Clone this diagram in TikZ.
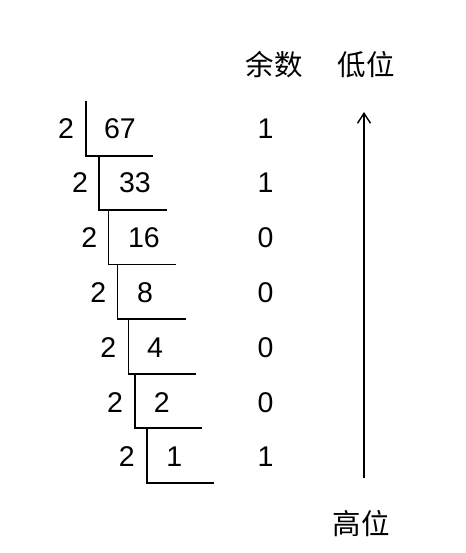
\documentclass[tikz,border=0pt]{standalone}
\usepackage{fontspec}
\setmainfont{Liberation Sans}
\newfontfamily\cjk{Noto Sans CJK SC}
\usetikzlibrary{arrows.meta}
\begin{document}
\begin{tikzpicture}[x=1pt,y=-1pt,
  txt/.style={inner sep=0pt,anchor=center,font=\fontsize{28.5}{34}\selectfont},
  cjktxt/.style={inner sep=0pt,anchor=center,font=\fontsize{28.5}{34}\selectfont\cjk},
  bracket/.style={line width=1.6pt,black},
  arrowline/.style={line width=1.4pt,black,-{Straight Barb[length=10pt,width=13pt,line width=1.4pt]}}]
\useasboundingbox (0,0) rectangle (465,553);
% division brackets
\draw[bracket] (85.7,101) -- (85.7,156) -- (153.3,156);
\draw[bracket] (99,156) -- (99,210) -- (166.7,210);
\draw[bracket] (108.3,210) -- (108.3,264.5) -- (176,264.5);
\draw[bracket] (117.3,264.5) -- (117.3,319) -- (185.7,319);
\draw[bracket] (128.3,319) -- (128.3,374) -- (195.7,374);
\draw[bracket] (135,374) -- (135,428) -- (202.3,428);
\draw[bracket] (146.7,428) -- (146.7,483) -- (214.3,483);
% divisors
\node[txt] (d1) at (66,129) {2};
\node[txt] (d2) at (80,183) {2};
\node[txt] (d3) at (89.3,238) {2};
\node[txt] (d4) at (98.3,292.5) {2};
\node[txt] (d5) at (108.3,348) {2};
\node[txt] (d6) at (115,403) {2};
\node[txt] (d7) at (126.7,457) {2};
% dividends
\node[txt] (n1) at (120,129) {67};
\node[txt] (n2) at (135,183) {33};
\node[txt] (n3) at (144,238) {16};
\node[txt] (n4) at (145,292.5) {8};
\node[txt] (n5) at (155,348) {4};
\node[txt] (n6) at (161.7,403) {2};
\node[txt] (n7) at (174.3,457) {1};
% remainders
\node[cjktxt] (rh) at (274,65) {余数};
\node[txt] (r1) at (265.5,129) {1};
\node[txt] (r2) at (265.5,183) {1};
\node[txt] (r3) at (265.5,238) {0};
\node[txt] (r4) at (265.5,292.5) {0};
\node[txt] (r5) at (265.5,348) {0};
\node[txt] (r6) at (265.5,403) {0};
\node[txt] (r7) at (265.5,457) {1};
% low / high
\node[cjktxt] (low) at (366,65) {低位};
\node[cjktxt] (high) at (361,524) {高位};
\coordinate (abot) at (364,478);
\coordinate (atop) at (364,112);
\draw[arrowline] (abot) -- (atop);
\end{tikzpicture}
\end{document}
